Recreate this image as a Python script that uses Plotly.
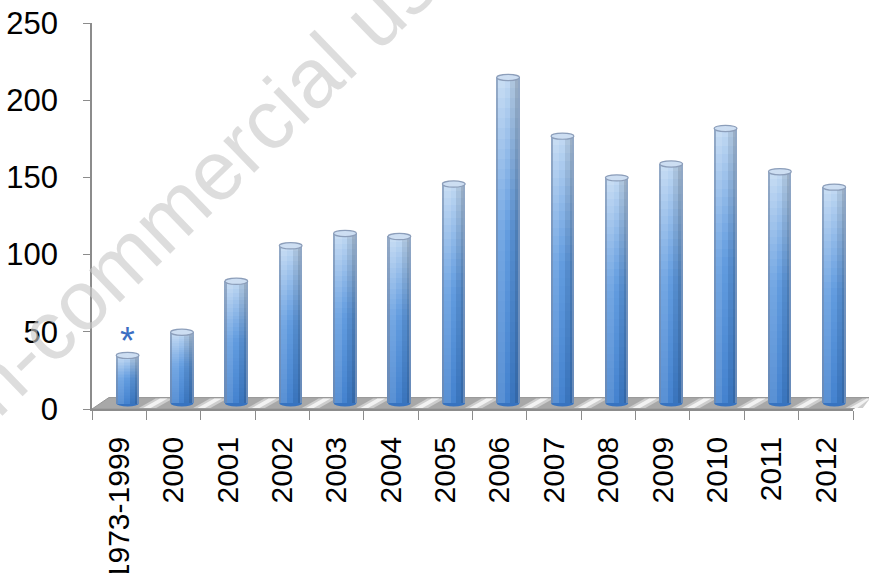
import plotly.graph_objects as go

# Data
categories = ["1973-1999", "2000", "2001", "2002", "2003", "2004", "2005",
              "2006", "2007", "2008", "2009", "2010", "2011", "2012"]
values = [31, 46, 79, 102, 110, 108, 142, 211, 173, 146, 155, 178, 150, 140]
flagged = ["1973-1999"]          # categories marked with an asterisk
y_ticks = [0, 50, 100, 150, 200, 250]

# Pseudo-3D styling
DEPTH_X = 0.31      # floor depth, in category units
DEPTH_Y = 7.4       # floor depth, in value units
BAR_W = 0.42        # cylinder width, in category units
CAP_H = 2.0         # half height of the cylinder caps, in value units
NV = 32             # vertical gradient steps
Y_MAX = 250
N = len(categories)
PLOT_W = 869 - 92 - 16

BOTTOM = (62, 126, 205)
MID = (92, 152, 222)
TOP = (192, 216, 242)
EDGE = (125, 145, 175)


def lerp(c1, c2, t):
    return tuple(a + (b - a) * t for a, b in zip(c1, c2))


def vertical_color(t):
    if t < 0.5:
        return lerp(BOTTOM, MID, t / 0.5)
    return lerp(MID, TOP, ((t - 0.5) / 0.5) ** 1.1)


def rgb(c):
    return "rgb(%d,%d,%d)" % tuple(max(0, min(255, round(v))) for v in c)


# horizontal strips across the cylinder: (start, end, shading)
strips = [
    (0.00, 0.07, ("edge", 0.65)),
    (0.07, 0.36, ("light", 0.14)),
    (0.36, 0.60, ("light", 0.03)),
    (0.60, 0.82, ("dark", 0.92)),
    (0.82, 0.94, ("dark", 0.82)),
    (0.94, 1.00, ("edge", 0.65)),
]


def shade(c, how):
    kind, amt = how
    if kind == "edge":
        return lerp(c, EDGE, amt)
    if kind == "light":
        return lerp(c, (255, 255, 255), amt)
    return tuple(v * amt for v in c)


fig = go.Figure()
center_off = DEPTH_X / 2
for j in range(NV):
    t = (j + 0.5) / NV
    base_col = vertical_color(t)
    bases = [DEPTH_Y / 2 + v * j / NV for v in values]
    heights = [v / NV * 1.05 for v in values]
    for (s0, s1, how) in strips:
        fig.add_trace(go.Bar(
            x=categories, y=heights, base=bases,
            width=BAR_W * (s1 - s0) * 1.04,
            offset=center_off - BAR_W / 2 + BAR_W * s0,
            marker=dict(color=rgb(shade(base_col, how)), line=dict(width=0)),
            hoverinfo="skip", showlegend=False,
        ))


def px(xd):
    return (xd + 0.5) / N


def py(yd):
    return yd / Y_MAX


shapes = []
# floor
x_l, x_r = -0.5, N - 0.5
shapes.append(dict(
    type="path", xref="paper", yref="paper", layer="below",
    path="M %f %f L %f %f L %f %f L %f %f Z" % (
        px(x_l), py(0), px(x_r), py(0),
        px(x_r + DEPTH_X), py(DEPTH_Y), px(x_l + DEPTH_X), py(DEPTH_Y)),
    fillcolor="rgb(168,168,168)", line=dict(color="rgb(150,150,150)", width=1),
))
# light reflections on the floor between cylinders
for i in range(N):
    for (a, b, col) in [(0.48, 0.80, "rgb(205,205,205)"), (0.56, 0.70, "rgb(242,242,242)")]:
        x0, x1 = i + a - 0.12, i + b - 0.12
        shapes.append(dict(
            type="path", xref="paper", yref="paper", layer="below",
            path="M %f %f L %f %f L %f %f L %f %f Z" % (
                px(x0), py(0.6), px(x1), py(0.6),
                px(min(x1 + DEPTH_X, x_r + DEPTH_X)), py(DEPTH_Y - 0.6),
                px(min(x0 + DEPTH_X, x_r + DEPTH_X)), py(DEPTH_Y - 0.6)),
            fillcolor=col, line=dict(width=0),
        ))
# cylinder bottoms and caps
for i, v in enumerate(values):
    xc = i + center_off
    shapes.append(dict(
        type="circle", xref="x", yref="y", layer="below",
        x0=xc - BAR_W / 2, x1=xc + BAR_W / 2,
        y0=DEPTH_Y / 2 - CAP_H, y1=DEPTH_Y / 2 + CAP_H,
        fillcolor=rgb(lerp(BOTTOM, (40, 90, 160), 0.3)), line=dict(width=0),
    ))
    top = DEPTH_Y / 2 + v
    shapes.append(dict(
        type="circle", xref="x", yref="y",
        x0=xc - BAR_W / 2, x1=xc + BAR_W / 2,
        y0=top - CAP_H, y1=top + CAP_H,
        fillcolor="rgb(205,222,242)", line=dict(color="rgb(140,158,186)", width=1.2),
    ))

annotations = []
for cat in flagged:
    i = categories.index(cat)
    annotations.append(dict(
        x=cat, y=values[i] + DEPTH_Y / 2 + CAP_H, xref="x", yref="y",
        xshift=center_off * PLOT_W / N, yshift=-12,
        text="*", showarrow=False, yanchor="bottom",
        font=dict(family="Liberation Sans, Arial", size=38, color="rgb(60,110,195)"),
    ))
annotations.append(dict(
    x=0.113, y=0.525, xref="paper", yref="paper", xanchor="center", yanchor="middle",
    text="Non-commercial use", showarrow=False, textangle=-44,
    font=dict(family="Liberation Sans, Arial", size=84, color="rgba(200,200,200,0.62)"),
))

fig.update_layout(
    width=869, height=573,
    margin=dict(l=92, r=16, t=23, b=164, autoexpand=False),
    paper_bgcolor="white", plot_bgcolor="white",
    barmode="overlay", bargap=0,
    shapes=shapes, annotations=annotations,
    showlegend=False,
    font=dict(family="Liberation Sans, Arial", size=30, color="black"),
)
fig.update_xaxes(
    type="category", categoryorder="array", categoryarray=categories,
    range=[-0.5, N - 0.5], automargin=False,
    tickson="boundaries", ticks="outside", ticklen=9, tickcolor="rgb(140,140,140)",
    showline=True, linecolor="rgb(140,140,140)", linewidth=1.5,
    tickangle=-90, tickfont=dict(size=30), showgrid=False, ticklabelstandoff=14,
)
fig.update_yaxes(
    range=[0, Y_MAX], tickvals=y_ticks, automargin=False,
    ticks="outside", ticklen=7, tickcolor="rgb(140,140,140)",
    showline=True, linecolor="rgb(140,140,140)", linewidth=1.5,
    tickfont=dict(size=31), showgrid=False, zeroline=False, ticklabelstandoff=19,
)

fig.write_html("out.html")
